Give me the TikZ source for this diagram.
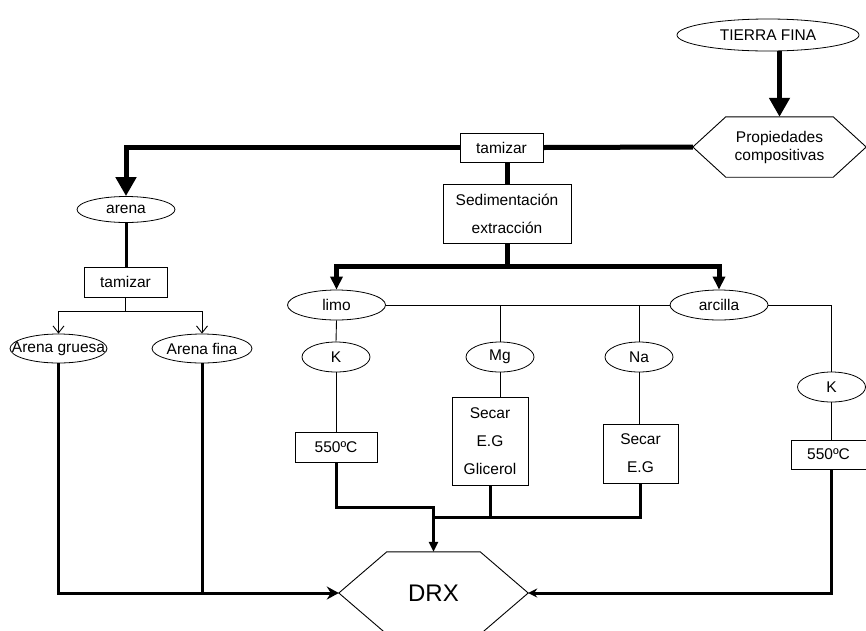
\documentclass[tikz,border=0pt]{standalone}
\usepackage{fontspec}
\setmainfont{Liberation Sans}
\usetikzlibrary{shapes.geometric,arrows.meta}

\begin{document}
\begin{tikzpicture}[x=1pt,y=-1pt,
  every node/.style={font=\fontsize{15.5}{18}\selectfont, inner sep=0pt},
  oval/.style={ellipse, draw, line width=0.8pt},
  stepbox/.style={rectangle, draw, line width=0.8pt, align=center},
  tallbox/.style={stepbox, font=\fontsize{15.5}{28}\selectfont},
  hexnode/.style={rectangle, draw=none, align=center},
  wire/.style={line width=0.9pt},
  midwire/.style={line width=3pt},
  heavywire/.style={line width=5pt},
  bighead/.style={-{Triangle[length=19pt,width=20pt]}},
  midhead/.style={-{Triangle[length=13pt,width=12pt]}},
  smallhead/.style={-{Triangle[length=10pt,width=9pt]}},
  lefthead/.style={-{Stealth[length=12pt,width=13pt,inset=4pt]}},
  righthead/.style={-{Stealth[length=9pt,width=9pt,inset=3pt]}},
  barb/.style={-{Straight Barb[length=7pt,width=11pt]}}
]
\useasboundingbox (0,0) rectangle (866,630);

% ---- nodes ----
\node[oval, minimum width=182, minimum height=32] (tierra) at (768,35) {\makebox[0pt]{TIERRA FINA}};
\node[hexnode, minimum width=173, minimum height=60] (prop) at (779.5,147) {Propiedades\\compositivas};
\node[stepbox, minimum width=83, minimum height=29] (tam1) at (501.5,147.5) {tamizar};
\node[tallbox, minimum width=128, minimum height=59] (sed) at (507,213.5) {Sedimentación\\extracción};

\node[oval, minimum width=98, minimum height=26] (arena) at (126,209.5) {\makebox[0pt]{arena}};
\node[stepbox, minimum width=83, minimum height=30] (tam2) at (125.5,282) {tamizar};
\node[oval, minimum width=97, minimum height=29] (ag) at (58.5,348.5) {\makebox[0pt]{Arena gruesa}};
\node[oval, minimum width=100, minimum height=29] (af) at (202,348.5) {\makebox[0pt]{Arena fina}};

\node[oval, minimum width=98, minimum height=30] (limo) at (336.5,305) {\makebox[0pt]{limo}};
\node[oval, minimum width=98, minimum height=30] (arcilla) at (719,305) {\makebox[0pt]{arcilla}};
\node[oval, minimum width=68, minimum height=30] (k1) at (336,357) {\makebox[0pt]{K}};
\node[oval, minimum width=68, minimum height=30] (mg) at (500,357) {\makebox[0pt]{Mg}};
\node[oval, minimum width=68, minimum height=30] (na) at (639,357) {\makebox[0pt]{Na}};
\node[oval, minimum width=68, minimum height=30] (k2) at (831.5,387) {\makebox[0pt]{K}};

\node[stepbox, minimum width=82, minimum height=30] (c1) at (336,447.5) {550ºC};
\node[tallbox, minimum width=76, minimum height=88] (mgbox) at (490,441) {Secar\\E.G\\Glicerol};
\node[tallbox, minimum width=75, minimum height=59] (nabox) at (640.5,453.5) {Secar\\E.G};
\node[stepbox, minimum width=75, minimum height=29] (c2) at (828.5,454.5) {550ºC};

\node[hexnode, minimum width=189, minimum height=82, font=\fontsize{24}{28}\selectfont] (drx) at (433.5,593) {DRX};

% ---- hexagon outlines ----
\draw[wire] (prop.west) -- ([xshift=33pt]prop.north west) -- ([xshift=-33pt]prop.north east)
  -- (prop.east) -- ([xshift=-33pt]prop.south east) -- ([xshift=33pt]prop.south west) -- cycle;
\draw[wire] (drx.west) -- ([xshift=48pt]drx.north west) -- ([xshift=-48pt]drx.north east)
  -- (drx.east) -- ([xshift=-48pt]drx.south east) -- ([xshift=48pt]drx.south west) -- cycle;

% ---- main flow ----
\draw[heavywire, bighead] (prop.north |- tierra.south) -- (prop.north);
\draw[heavywire] (prop.west) -- (tam1.east);
\draw[heavywire, bighead] (tam1.west) -| (arena.north);
\draw[heavywire] (sed.north |- tam1.south) -- (sed.north);
\draw[heavywire] (sed.south) -- ++(0,23) coordinate (split);
\draw[heavywire, midhead] (split) -| (limo.north);
\draw[heavywire, midhead] (split) -| (arcilla.north);

% ---- sand branch ----
\draw[midwire] (arena.south) -- (arena.south |- tam2.north);
\draw[wire] (tam2.south) -- ++(0,14) coordinate (fork);
\draw[wire, barb] (fork) -| (ag.north);
\draw[wire, barb] (fork) -| (af.north);

% ---- silt / clay treatments ----
\draw[wire] (limo.east) -- (arcilla.west);
\draw[wire] (mg.north |- limo.east) -- (mg.north);
\draw[wire] (na.north |- limo.east) -- (na.north);
\draw[wire] (arcilla.east) -| (k2.north);
\draw[wire] (limo.south) -- (k1.north);
\draw[wire] (k1.south) -- (c1.north);
\draw[wire] (mg.south) -- (mg.south |- mgbox.north);
\draw[wire] (na.south) -- (na.south |- nabox.north);
\draw[wire] (k2.south) -- (k2.south |- c2.north);

% ---- collection into DRX ----
\draw[midwire, smallhead] (c1.south) -- ++(0,44.5) -| (drx.north);
\draw[midwire] (mgbox.south) -- ++(0,32) coordinate (mgj);
\draw[midwire] (nabox.south) |- (drx.north |- mgj);
\draw[midwire, lefthead] (ag.south) |- (drx.west);
\draw[midwire] (af.south) -- (af.south |- drx.west);
\draw[midwire, righthead] (k2.south |- c2.south) |- (drx.east);
\end{tikzpicture}
\end{document}
